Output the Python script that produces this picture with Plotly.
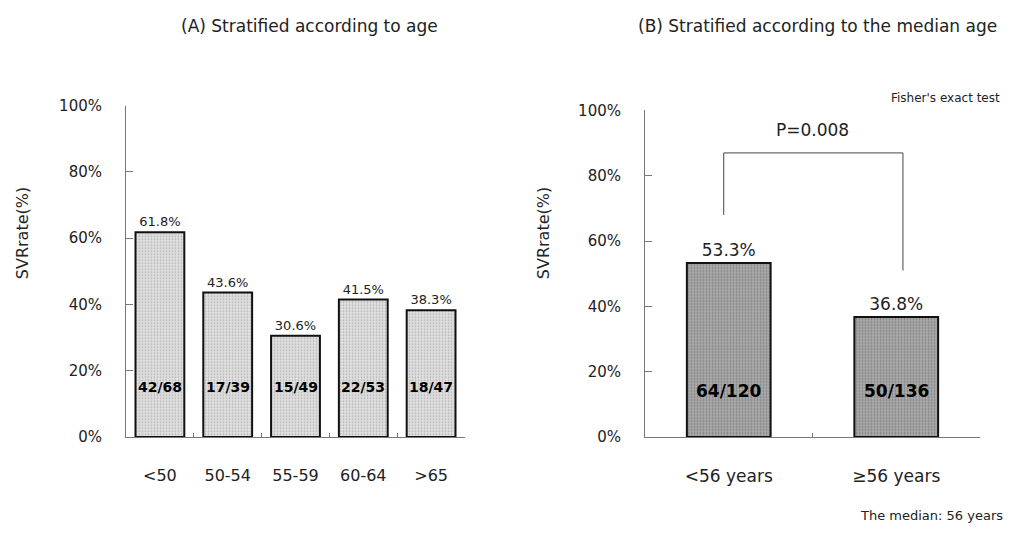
import plotly.graph_objects as go

# ---- data ----
age_groups = ["<50", "50-54", "55-59", "60-64", ">65"]
age_rates = [61.8, 43.6, 30.6, 41.5, 38.3]
age_counts = ["42/68", "17/39", "15/49", "22/53", "18/47"]

median_groups = ["<56 years", "≥56 years"]
median_rates = [53.3, 36.8]
median_counts = ["64/120", "50/136"]

y_ticks = [0, 20, 40, 60, 80, 100]
y_ticktext = ["0%", "20%", "40%", "60%", "80%", "100%"]

p_value_text = "P=0.008"
bracket_heights = [68, 87, 51]  # left leg bottom, top, right leg bottom (%)

FONT = "DejaVu Sans"
TXT = "#222222"

fig = go.Figure()

fig.add_trace(go.Bar(
    x=age_groups, y=age_rates, xaxis="x", yaxis="y",
    width=0.72,
    marker=dict(color="#d9d9d9", line=dict(color="#111111", width=2),
                pattern=dict(shape=".", bgcolor="#e0e0e0", fgcolor="#7a7a7a",
                             size=3, solidity=0.25)),
    text=[f"{v}%" for v in age_rates], textposition="outside",
    textfont=dict(family=FONT, size=13, color=TXT),
    cliponaxis=False, showlegend=False, hoverinfo="skip",
))

fig.add_trace(go.Bar(
    x=median_groups, y=median_rates, xaxis="x2", yaxis="y2",
    width=0.5,
    marker=dict(color="#a8a8a8", line=dict(color="#111111", width=2),
                pattern=dict(shape=".", bgcolor="#ababab", fgcolor="#555555",
                             size=3, solidity=0.3)),
    text=[f"{v}%" for v in median_rates], textposition="outside",
    textfont=dict(family=FONT, size=17, color=TXT),
    cliponaxis=False, showlegend=False, hoverinfo="skip",
))

annotations = []
for g, c in zip(age_groups, age_counts):
    annotations.append(dict(x=g, y=15, xref="x", yref="y", text=f"<b>{c}</b>",
                            xanchor="center", yanchor="middle",
                            showarrow=False, font=dict(family=FONT, size=14, color="#000")))
for g, c in zip(median_groups, median_counts):
    annotations.append(dict(x=g, y=14, xref="x2", yref="y2", text=f"<b>{c}</b>",
                            xanchor="center", yanchor="middle",
                            showarrow=False, font=dict(family=FONT, size=17, color="#000")))

# titles and notes
annotations += [
    dict(x=309 / 1010, y=1 - 18 / 535, xref="paper", yref="paper", xanchor="center", yanchor="middle",
         text="(A) Stratified according to age",
         showarrow=False, font=dict(family=FONT, size=17, color=TXT)),
    dict(x=817 / 1010, y=1 - 18 / 535, xref="paper", yref="paper", xanchor="center", yanchor="middle",
         text="(B) Stratified according to the median age",
         showarrow=False, font=dict(family=FONT, size=17, color=TXT)),
    dict(x=1002 / 1010, y=1 - 92 / 535, xref="paper", yref="paper", xanchor="right", yanchor="middle",
         text="Fisher's exact test", showarrow=False, font=dict(family=FONT, size=12, color=TXT)),
    dict(x=1005 / 1010, y=1 - 524 / 535, xref="paper", yref="paper", xanchor="right", yanchor="middle",
         text="The median: 56 years", showarrow=False, font=dict(family=FONT, size=13, color=TXT)),
    dict(x=22 / 1010, y=1 - 232 / 535, xref="paper", yref="paper", xanchor="center", yanchor="middle",
         text="SVRrate(%)", textangle=-90,
         showarrow=False, font=dict(family=FONT, size=16, color=TXT)),
    dict(x=543 / 1010, y=1 - 232 / 535, xref="paper", yref="paper", xanchor="center", yanchor="middle",
         text="SVRrate(%)", textangle=-90,
         showarrow=False, font=dict(family=FONT, size=16, color=TXT)),
    dict(x=0.5, y=94, xref="x2", yref="y2", text=p_value_text, showarrow=False,
         xanchor="center", yanchor="middle",
         font=dict(family=FONT, size=17, color=TXT)),
]

# bracket
x_left, x_right = -0.03, 0.04
fig.add_shape(type="path", xref="x2", yref="y2",
              path=f"M {x_left} {bracket_heights[0]} L {x_left} {bracket_heights[1]} "
                   f"L {1 + x_right} {bracket_heights[1]} L {1 + x_right} {bracket_heights[2]}",
              line=dict(color="#444444", width=1))

axis_common = dict(showgrid=False, zeroline=False, showline=True, linecolor="#777777", linewidth=1)

fig.update_layout(
    width=1010, height=535,
    margin=dict(l=0, r=0, t=0, b=0),
    paper_bgcolor="white", plot_bgcolor="white",
    annotations=annotations,
    xaxis=dict(domain=[126 / 1010, 465 / 1010], anchor="y", type="category",
               ticks="inside", ticklen=4, tickson="boundaries", tickcolor="#777",
               ticklabelstandoff=24,
               tickfont=dict(family=FONT, size=16, color=TXT), **axis_common),
    yaxis=dict(domain=[1 - 443 / 535, 1 - 100 / 535], anchor="x", range=[0, 100],
               tickvals=y_ticks, ticktext=y_ticktext, ticks="inside", ticklen=7, tickcolor="#777",
               ticklabelstandoff=20,
               tickfont=dict(family=FONT, size=15, color=TXT), **axis_common),
    xaxis2=dict(domain=[645 / 1010, 980 / 1010], anchor="y2", type="category",
                ticks="inside", ticklen=4, tickson="boundaries", tickcolor="#777",
                ticklabelstandoff=24,
                tickfont=dict(family=FONT, size=17, color=TXT), **axis_common),
    yaxis2=dict(domain=[1 - 443 / 535, 1 - 105 / 535], anchor="x2", range=[0, 100],
                tickvals=y_ticks, ticktext=y_ticktext, ticks="inside", ticklen=7, tickcolor="#777",
                ticklabelstandoff=20,
                tickfont=dict(family=FONT, size=15, color=TXT), **axis_common),
)

fig.write_html("out.html")
